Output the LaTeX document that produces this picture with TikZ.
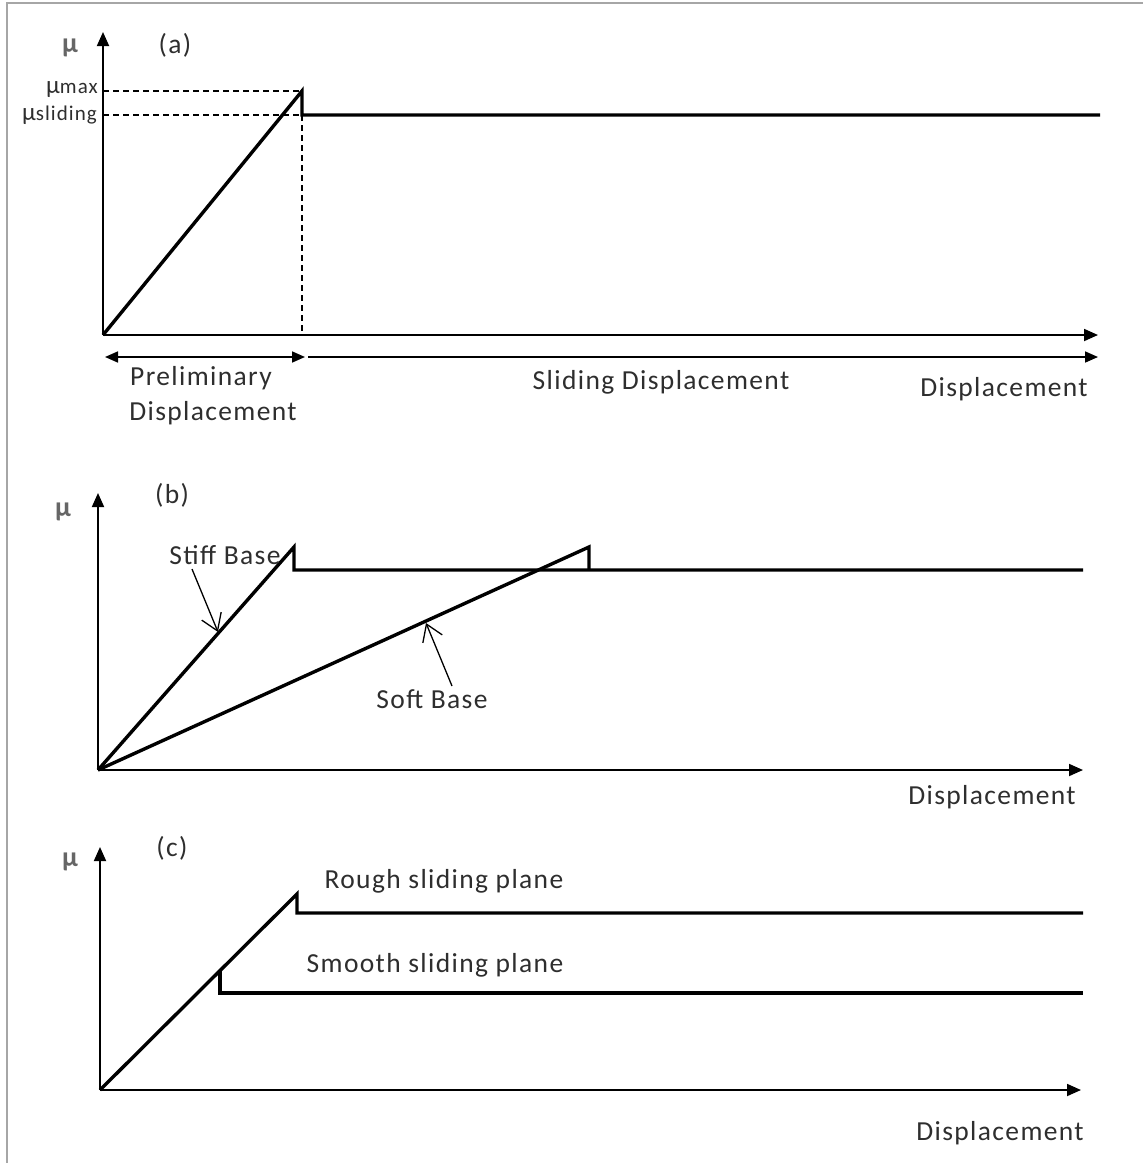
\documentclass[tikz,border=0pt]{standalone}
\usepackage{fontspec}
\setmainfont{Carlito}[LetterSpace=5]
\usetikzlibrary{arrows.meta}
\begin{document}
\begin{tikzpicture}[x=1pt,y=-1pt,
  axis/.style={line width=1.8pt,-{Triangle[length=14pt,width=12pt]}},
  dimline/.style={line width=1.7pt},
  curve/.style={line width=3.4pt,line join=miter},
  guide/.style={line width=1.4pt,dash pattern=on 6pt off 4pt},
  lbl/.style={font=\fontsize{27.5}{33}\selectfont,text=black!82,inner sep=0pt},
  mulbl/.style={font=\fontsize{28}{33}\selectfont\bfseries,text=black!60,inner sep=0pt},
  sym/.style={font=\fontsize{25}{30}\selectfont,text=black!82,inner sep=0pt},
  pointer/.style={line width=1.3pt,-{Straight Barb[length=16pt,width=21pt,line width=1.3pt]}}]
\useasboundingbox (0,0) rectangle (1143,1163);
\draw[black!35,line width=2pt] (7,1163) -- (7,3) -- (1143,3);

% ---------- panel (a)
\coordinate (Oa) at (103,335);
\coordinate (Ya) at (103,32);
\coordinate (Xa) at (1098,335);
\coordinate (Pa) at (302,91);
\coordinate (Qa) at (302,115);
\coordinate (Ea) at (1100,115);
\coordinate (Ma) at (103,91);
\coordinate (Sa) at (103,115);
\coordinate (Ba) at (302,335);
\coordinate (L1) at (105,357);
\coordinate (L2) at (305,357);
\coordinate (L3) at (308,357);
\coordinate (L4) at (1098,357);
\draw[axis] (Oa) -- (Ya);
\draw[axis] (Oa) -- (Xa);
\draw[guide] (Ma) -- (Pa);
\draw[guide] (Sa) -- (Qa);
\draw[guide] (Qa) -- (Ba);
\draw[curve] (Oa) -- (Pa) -- (Qa) -- (Ea);
\draw[dimline,{Triangle[length=13pt,width=11pt]}-{Triangle[length=13pt,width=11pt]}] (L1) -- (L2);
\draw[dimline,-{Triangle[length=13pt,width=11pt]}] (L3) -- (L4);
\node[mulbl] (mua) at (70,48) {μ};
\node[lbl] (taga) at (175,45) {(a)};
\node[sym,anchor=east] (mumax) at (98,90) {μ{\fontsize{21}{25}\selectfont max}};
\node[sym,anchor=east] (musl) at (97,115) {μ{\fontsize{21}{25}\selectfont sliding}};
\node[lbl,anchor=west] (prel1) at (130,378) {Preliminary};
\node[lbl] (prel2) at (213,413) {Displacement};
\node[lbl] (slid) at (661,382) {Sliding Displacement};
\node[lbl] (dispa) at (1004,389) {Displacement};

% ---------- panel (b)
\coordinate (Ob) at (98,770);
\coordinate (Yb) at (98,493);
\coordinate (Xb) at (1083,770);
\coordinate (Pb) at (294,547);
\coordinate (Qb) at (294,570);
\coordinate (Eb) at (1083,570);
\coordinate (Rb) at (589,547);
\coordinate (Sb) at (589,570);
\draw[axis] (Ob) -- (Yb);
\draw[axis] (Ob) -- (Xb);
\draw[curve] (Ob) -- (Pb) -- (Qb) -- (Eb);
\draw[curve] (Ob) -- (Rb) -- (Sb);
\node[mulbl] (mub) at (63,512) {μ};
\node[lbl] (tagb) at (172,495) {(b)};
\node[lbl] (stiff) at (225,555) {Stiff Base};
\node[lbl] (soft) at (432,699) {Soft Base};
\coordinate (stiffA) at (192,569);
\coordinate (stiffB) at (218,632);
\coordinate (softA) at (452,686);
\coordinate (softB) at (426,623);
\draw[pointer] (stiffA) -- (stiffB);
\draw[pointer] (softA) -- (softB);
\node[lbl] (dispb) at (992,797) {Displacement};

% ---------- panel (c)
\coordinate (Oc) at (100,1090);
\coordinate (Yc) at (100,847);
\coordinate (Xc) at (1081,1090);
\coordinate (Pc) at (297,894);
\coordinate (Qc) at (297,913);
\coordinate (Ec) at (1083,913);
\coordinate (Rc) at (220,970);
\coordinate (Sc) at (220,993);
\coordinate (Fc) at (1083,993);
\draw[axis] (Oc) -- (Yc);
\draw[axis] (Oc) -- (Xc);
\draw[curve] (Oc) -- (Pc) -- (Qc) -- (Ec);
\draw[curve] (Rc) -- (Sc) -- (Fc);
\node[mulbl] (muc) at (70,862) {μ};
\node[lbl] (tagc) at (172,848) {(c)};
\node[lbl] (rough) at (444,881) {Rough sliding plane};
\node[lbl] (smooth) at (435,965) {Smooth sliding plane};
\node[lbl] (dispc) at (1000,1133) {Displacement};
\end{tikzpicture}
\end{document}
